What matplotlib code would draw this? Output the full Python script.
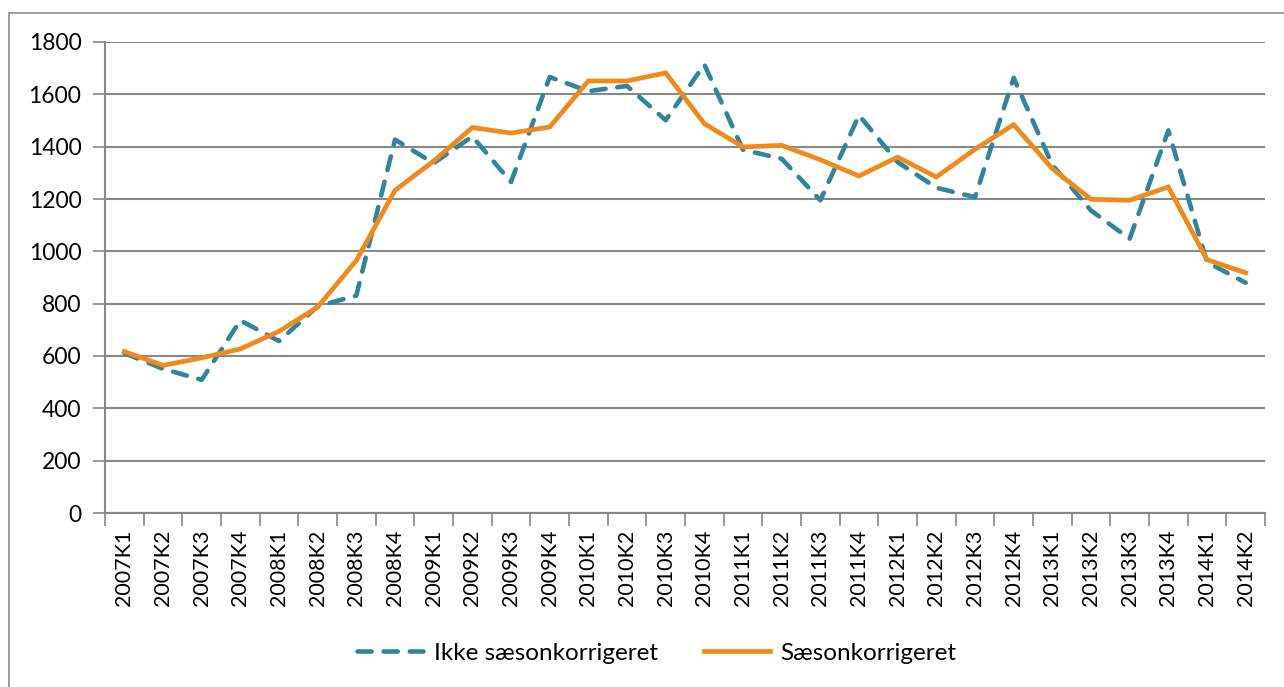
import matplotlib
matplotlib.use("Agg")
import matplotlib.pyplot as plt
from matplotlib.patches import Rectangle
from matplotlib.ticker import FixedLocator

# quarters
kvartaler = ["2007K1", "2007K2", "2007K3", "2007K4",
             "2008K1", "2008K2", "2008K3", "2008K4",
             "2009K1", "2009K2", "2009K3", "2009K4",
             "2010K1", "2010K2", "2010K3", "2010K4",
             "2011K1", "2011K2", "2011K3", "2011K4",
             "2012K1", "2012K2", "2012K3", "2012K4",
             "2013K1", "2013K2", "2013K3", "2013K4",
             "2014K1", "2014K2"]

ikke_saeson = [611, 551, 509, 736, 657, 790, 831, 1427,
               1337, 1439, 1265, 1666, 1612, 1632, 1501, 1714,
               1388, 1354, 1195, 1520, 1341, 1243, 1207, 1663,
               1330, 1156, 1048, 1462, 959, 880]

saeson = [617, 564, 593, 627, 694, 787, 965, 1233,
          1345, 1473, 1452, 1475, 1651, 1651, 1682, 1488,
          1399, 1405, 1350, 1288, 1360, 1284, 1390, 1484,
          1316, 1199, 1195, 1246, 968, 918]

y_ticks = [0, 200, 400, 600, 800, 1000, 1200, 1400, 1600, 1800]

teal = "#31849B"
orange = "#F08A1D"
grey = "#888888"

plt.rcParams["font.family"] = ["Lato", "DejaVu Sans"]

fig = plt.figure(figsize=(12.84, 6.87), dpi=100)
ax = fig.add_axes([105 / 1284, 1 - 513 / 687, 1160 / 1284, 471 / 687])

# outer chart frame
fig.patches.append(Rectangle((9 / 1284, -0.1), 1.2, 1 - 13 / 687 + 0.1,
                             transform=fig.transFigure, fill=False,
                             edgecolor="#8c8c8c", linewidth=1.2))

x = list(range(len(kvartaler)))
ax.plot(x, ikke_saeson, color=teal, linewidth=3.3, dashes=(3.1, 2.6),
        dash_capstyle="round", dash_joinstyle="round",
        label="Ikke sæsonkorrigeret", zorder=3)
ax.plot(x, saeson, color=orange, linewidth=3.4, solid_joinstyle="miter",
        label="Sæsonkorrigeret", zorder=4)

ax.set_xlim(-0.5, len(kvartaler) - 0.5)
ax.set_ylim(0, 1800)
ax.set_yticks(y_ticks)
ax.set_xticks(x)
ax.set_xticklabels(kvartaler, rotation=90, fontsize=15.5)
ax.xaxis.set_minor_locator(FixedLocator([i - 0.5 for i in range(len(kvartaler) + 1)]))
ax.tick_params(axis="x", which="major", length=0, pad=12)
ax.tick_params(axis="x", which="minor", length=9, width=1.2, color=grey, direction="out")
ax.tick_params(axis="y", length=9, width=1.2, color=grey, pad=8, labelsize=16.5)

ax.grid(axis="y", color=grey, linewidth=1.5)
ax.set_axisbelow(True)
for s in ["top", "right"]:
    ax.spines[s].set_visible(False)
for s in ["left", "bottom"]:
    ax.spines[s].set_color(grey)
    ax.spines[s].set_linewidth(1.5)

fig.legend(loc="center", bbox_to_anchor=(657 / 1284, 1 - 653 / 687), ncol=2,
           frameon=False, fontsize=17.5, handlelength=2.7, handletextpad=0.45,
           columnspacing=1.9)

fig.savefig("out.png", dpi=100)
